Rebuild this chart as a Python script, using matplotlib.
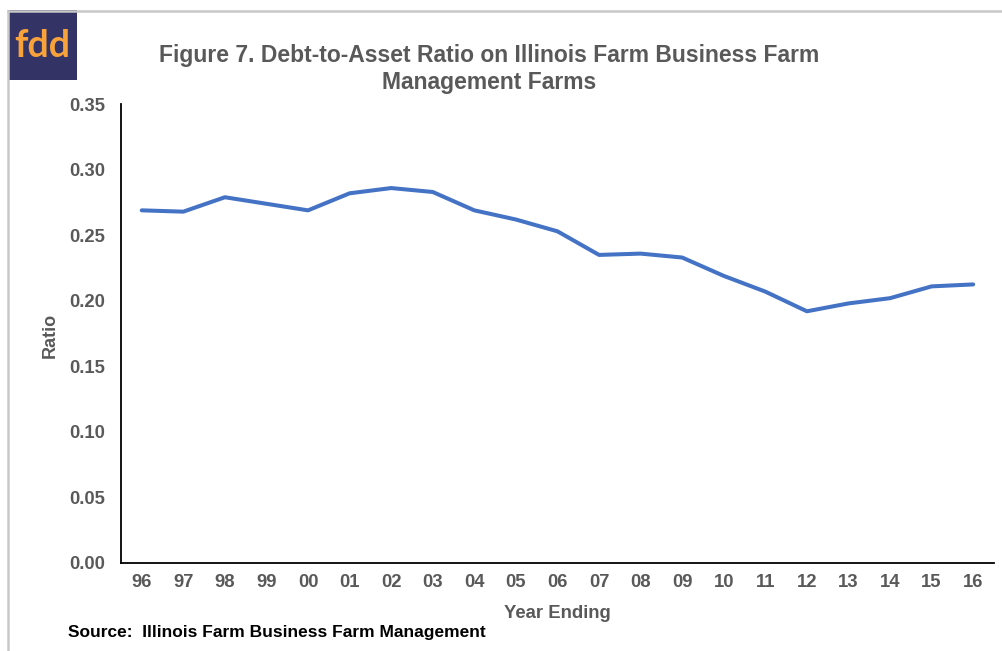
import matplotlib
matplotlib.use("Agg")
import matplotlib.pyplot as plt
from matplotlib.patches import Rectangle
from matplotlib.lines import Line2D

years = ["96", "97", "98", "99", "00", "01", "02", "03", "04", "05", "06",
         "07", "08", "09", "10", "11", "12", "13", "14", "15", "16"]
ratio = [0.269, 0.268, 0.279, 0.274, 0.269, 0.282, 0.286, 0.283, 0.269, 0.262, 0.253,
         0.235, 0.236, 0.233, 0.219, 0.207, 0.192, 0.198, 0.202, 0.211, 0.2125]
yticks = [0.00, 0.05, 0.10, 0.15, 0.20, 0.25, 0.30, 0.35]

plt.rcParams['font.family'] = ['Liberation Sans', 'DejaVu Sans']
gray = '#595959'

fig = plt.figure(figsize=(10.03, 6.51), dpi=100)
ax = fig.add_axes([0.1206, 0.1352, 0.991 - 0.1206, 0.840 - 0.1352])

x = list(range(len(years)))
ax.plot(x, ratio, color='#4472C4', lw=2.9, solid_joinstyle='round', solid_capstyle='round')
ax.set_xlim(-0.5, len(years) - 0.5)
ax.set_ylim(0, 0.35)
ax.set_xticks(x)
ax.set_xticklabels(years)
ax.set_yticks(yticks)
ax.set_yticklabels([f"{v:.2f}" for v in yticks])
ax.tick_params(axis='both', length=0, labelsize=13.3, labelcolor=gray)
ax.tick_params(axis='y', pad=11.5)
ax.tick_params(axis='x', pad=8)
for lab in ax.get_xticklabels() + ax.get_yticklabels():
    lab.set_fontweight('bold')
for s in ['top', 'right']:
    ax.spines[s].set_visible(False)
for s in ['left', 'bottom']:
    ax.spines[s].set_color('black')
    ax.spines[s].set_linewidth(1.3)

# texts
fig.text(489 / 1003, 1 - 69 / 651,
         "Figure 7. Debt-to-Asset Ratio on Illinois Farm Business Farm\nManagement Farms",
         ha='center', va='center', fontsize=16.5, fontweight='bold', color=gray,
         linespacing=1.25)
fig.text(50 / 1003, 1 - 335 / 651, "Ratio", rotation=90, ha='center', va='center',
         fontsize=13, fontweight='bold', color=gray)
fig.text(557 / 1003, 1 - 613 / 651, "Year Ending", ha='center', va='center',
         fontsize=13.3, fontweight='bold', color=gray)
fig.text(68 / 1003, 1 - 633 / 651, "Source:  Illinois Farm Business Farm Management",
         ha='left', va='center', fontsize=12.5, fontweight='bold', color='black')

# border lines
fig.add_artist(Line2D([8 / 1003, 1], [1 - 11 / 651, 1 - 11 / 651], transform=fig.transFigure,
                      color='#C8C8C8', lw=1.8))
fig.add_artist(Line2D([8 / 1003, 8 / 1003], [0, 1 - 11 / 651], transform=fig.transFigure,
                      color='#C8C8C8', lw=1.8))

# logo
fig.add_artist(Rectangle((8 / 1003, 1 - 80 / 651), 69 / 1003, 70 / 651,
                         transform=fig.transFigure, facecolor='#333366', edgecolor='none'))
fig.text(42 / 1003, 1 - 46 / 651, "fdd", ha='center', va='center', fontsize=27,
         fontweight='bold', color='#F7A23B', family=['Lato', 'DejaVu Sans'])

fig.savefig("out.png", dpi=100)
